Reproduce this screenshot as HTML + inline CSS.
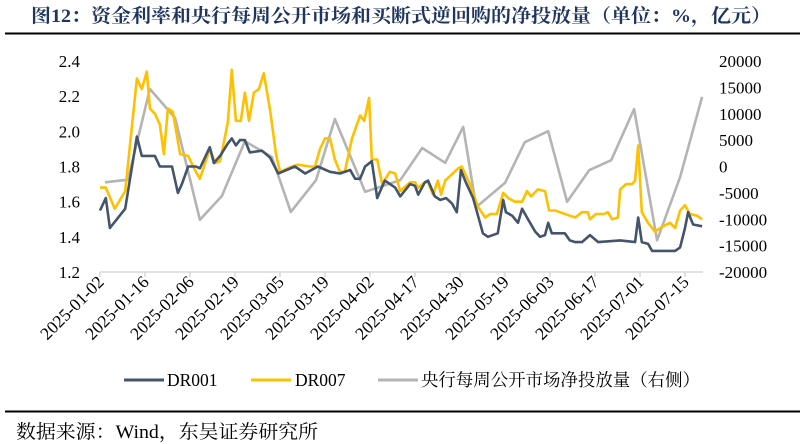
<!DOCTYPE html>
<html><head><meta charset="utf-8">
<style>
body{margin:0;background:#fff;}
svg{display:block;font-family:"Liberation Serif","Noto Serif CJK SC",serif;}
</style></head>
<body>
<svg id="chart" width="805" height="444" viewBox="0 0 805 444" xmlns="http://www.w3.org/2000/svg">
<text x="31" y="22" font-size="19" font-weight="bold" fill="#1f3560" textLength="740" lengthAdjust="spacingAndGlyphs">图12：资金利率和央行每周公开市场和买断式逆回购的净投放量（单位：%，亿元）</text>
<line x1="5" y1="33.5" x2="800" y2="33.5" stroke="#000" stroke-width="2"/>
<line x1="100" y1="272" x2="703" y2="272" stroke="#d9d9d9" stroke-width="1.5"/>
<g id="ticks"></g>
<g id="series"></g>
<g>
<line x1="124" y1="380" x2="164" y2="380" stroke="#44546a" stroke-width="3"/>
<text x="167" y="386" font-size="17.5">DR001</text>
<line x1="251" y1="380" x2="291" y2="380" stroke="#ffc000" stroke-width="3"/>
<text x="295" y="386" font-size="17.5">DR007</text>
<line x1="378" y1="380" x2="418" y2="380" stroke="#b4b4b4" stroke-width="3"/>
<text x="421" y="386" font-size="17.5" textLength="279" lengthAdjust="spacingAndGlyphs">央行每周公开市场净投放量（右侧）</text>
</g>
<line x1="5" y1="411.5" x2="800" y2="411.5" stroke="#000" stroke-width="2"/>
<text x="16" y="438" font-size="19" textLength="302" lengthAdjust="spacingAndGlyphs">数据来源：Wind，东吴证券研究所</text>
</svg>
<script>
const xTickLabels=["2025-01-02","2025-01-16","2025-02-06","2025-02-19","2025-03-05","2025-03-19","2025-04-02","2025-04-17","2025-04-30","2025-05-19","2025-06-03","2025-06-17","2025-07-01","2025-07-15"];
const leftTicks=[1.2,1.4,1.6,1.8,2.0,2.2,2.4];
const rightTicks=[-20000,-15000,-10000,-5000,0,5000,10000,15000,20000];
const dr001Day=[0,1.3,2.2,5.6,8.2,9.3,12.2,13.3,16,17.3,18.2,19.6,21.3,22.2,24.4,25.3,26.7,28.4,29.3,30.2,31.1,32.2,33.3,36,37.8,39.6,43.3,45.6,48.4,51.1,53.3,55.6,56.7,57.8,58.9,60.4,61.6,63.3,65.6,66.7,68.9,70,70.7,72.2,72.9,74.4,75.6,76.9,78.2,79.3,80.2,81.3,82.9,84,85.1,86.2,88.4,89.6,90.2,91.6,92.9,93.8,94.9,96.7,97.8,98.9,99.6,100.4,103.3,104.4,105.6,107.1,108.9,110.7,115.6,118.9,119.6,120.4,121.8,122.7,127.8,128.9,130,130.7,131.8,133.8];
const dr001Val=[1.55,1.62,1.45,1.56,1.97,1.86,1.86,1.80,1.80,1.65,1.70,1.80,1.80,1.79,1.91,1.82,1.86,1.93,1.96,1.92,1.95,1.95,1.88,1.89,1.85,1.76,1.80,1.76,1.80,1.77,1.76,1.78,1.73,1.73,1.80,1.83,1.62,1.72,1.68,1.63,1.70,1.69,1.64,1.71,1.72,1.63,1.61,1.62,1.59,1.54,1.78,1.71,1.62,1.52,1.42,1.40,1.42,1.61,1.54,1.52,1.48,1.56,1.51,1.43,1.40,1.41,1.48,1.42,1.42,1.38,1.37,1.37,1.41,1.37,1.38,1.37,1.51,1.37,1.36,1.32,1.32,1.34,1.45,1.54,1.47,1.46];
const dr007Day=[0,1.3,3.3,5.6,8.2,9.3,10.4,11.1,12.2,13.3,14.2,15.1,16.2,17.8,19.6,21.1,22.2,24.4,25.6,26.7,28.4,29.3,30.2,31.3,32.2,33.1,34.2,35.3,36.4,37.8,39.1,40,42.7,44,46.7,47.8,48.9,50,51.1,52.2,53.3,54.4,56,57.8,58.7,59.8,60.4,61.6,62.7,64.4,65.6,66.7,68.9,70,70.7,72.2,72.9,74,75.1,75.8,76.7,79.6,80.4,82.2,84,85.6,86.7,88.2,89.6,90.7,92.2,93.8,94.9,95.8,97.3,98.9,99.8,101.1,102.2,104.4,105.6,107.1,108.4,108.9,110.2,112,112.9,113.8,115.1,115.6,116.9,118.2,118.9,119.6,120.4,121.8,123.3,125.1,126.7,127.8,128.9,130,131.1,132.7,133.8];
const dr007Val=[1.68,1.68,1.56,1.66,2.30,2.24,2.34,2.13,2.10,2.04,1.87,2.13,2.11,1.87,1.86,1.78,1.73,1.90,1.82,1.83,2.05,2.35,2.06,2.06,2.22,2.06,2.22,2.24,2.33,2.12,1.87,1.77,1.80,1.81,1.80,1.80,1.90,1.96,1.96,1.84,1.77,1.77,1.96,2.09,2.06,2.19,1.84,1.84,1.70,1.77,1.76,1.66,1.71,1.71,1.68,1.71,1.71,1.64,1.72,1.64,1.72,1.79,1.80,1.70,1.57,1.51,1.53,1.53,1.65,1.62,1.60,1.60,1.66,1.63,1.67,1.66,1.55,1.55,1.54,1.52,1.51,1.54,1.54,1.50,1.53,1.53,1.54,1.50,1.51,1.67,1.70,1.70,1.72,1.92,1.54,1.48,1.43,1.46,1.48,1.45,1.55,1.58,1.53,1.52,1.50];
const netDay=[1.1,6.2,11.1,16.7,22.2,27.1,32.2,38.2,42.4,48,52.2,58.9,66.7,71.6,76.7,80.7,83.6,90,94.4,99.6,103.8,108.7,113.6,118.7,123.8,128.9,133.8];
const netVal=[-3000,-2500,14700,9200,-10100,-5600,4800,1800,-8600,-2600,9000,-4800,-2600,3500,700,7500,-7700,-3100,4600,6700,-6700,-700,1200,10900,-14000,-2000,13200];

const NS="http://www.w3.org/2000/svg";
const X0=100,DX=4.5,Y0=272,Y1=61;
function xs(d){return X0+d*DX;}
function yl(v){return Y0-(v-1.2)/(2.4-1.2)*(Y0-Y1);}
function yr(v){return Y0-(v+20000)/40000*(Y0-Y1);}
const tg=document.getElementById('ticks');
const sg=document.getElementById('series');
function mk(tag,attrs,parent){const e=document.createElementNS(NS,tag);for(const k in attrs)e.setAttribute(k,attrs[k]);parent.appendChild(e);return e;}

xTickLabels.forEach((lab,i)=>{
  const x=xs(i*10);
  const t=mk('line',{x1:x,y1:272,x2:x,y2:277,stroke:'#d9d9d9','stroke-width':1.5},tg);
  
  
  const tx=mk('text',{x:x+5,y:283,'font-size':17.5,'text-anchor':'end',transform:`rotate(-45 ${x+5} 283)`},tg);
  tx.textContent=lab;
  
  
});
leftTicks.forEach(v=>{
  const t=mk('text',{x:80,y:yl(v)+6,'font-size':17,'text-anchor':'end'},tg);
  t.textContent=v.toFixed(1);
  
  
});
rightTicks.forEach(v=>{
  const t=mk('text',{x:719,y:yr(v)+6,'font-size':17},tg);
  t.textContent=String(v);
  
  
});
function line(days,vals,yf,color,name){
  const pts=days.map((d,i)=>xs(d).toFixed(1)+','+yf(vals[i]).toFixed(1)).join(' ');
  const p=mk('polyline',{points:pts,fill:'none',stroke:color,'stroke-width':2.6,'stroke-linejoin':'round'},sg);
  
  
}
line(netDay,netVal,yr,'#b4b4b4','net-injection-line');
line(dr007Day,dr007Val,yl,'#ffc000','dr007-line');
line(dr001Day,dr001Val,yl,'#44546a','dr001-line');
</script>
</body></html>
